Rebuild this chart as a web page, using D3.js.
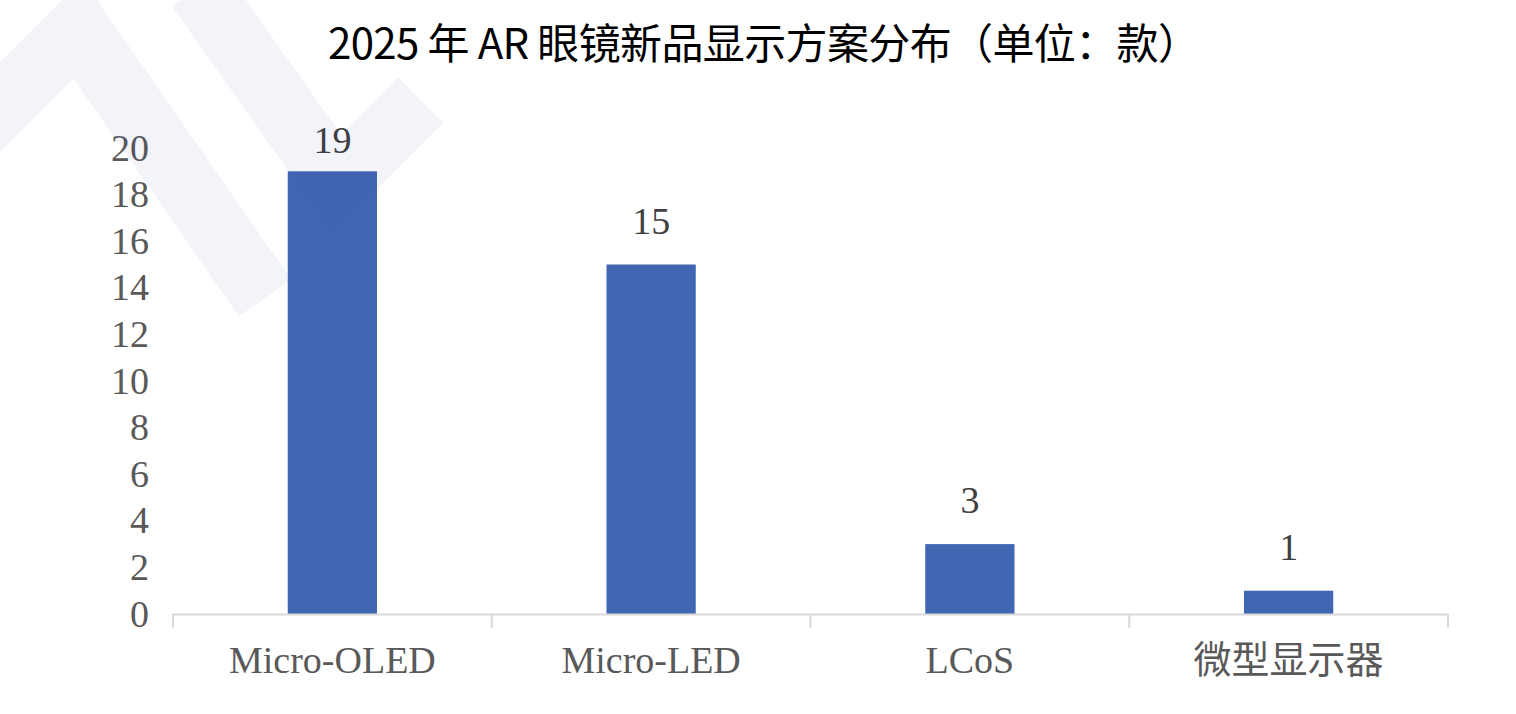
<!DOCTYPE html>
<html>
<head>
<meta charset="utf-8">
<script src="https://cdn.jsdelivr.net/npm/d3@7"></script>
<style>
  body { margin: 0; background: #fff; }
  .axis-label { font-family: "Liberation Serif", "Noto Sans CJK SC", serif; font-size: 38px; fill: #595959; }
  .value-label { font-family: "Liberation Serif", serif; font-size: 38px; fill: #404040; }
  .chart-title { font-family: "Liberation Sans Narrow", "Noto Sans CJK SC", sans-serif; font-size: 42px; font-weight: 400; fill: #000; }
</style>
</head>
<body>
<div id="chart"></div>
<script>
// data
const categories = ['Micro-OLED', 'Micro-LED', 'LCoS', '微型显示器'];
const counts = [19, 15, 3, 1];
const yTicks = [0, 2, 4, 6, 8, 10, 12, 14, 16, 18, 20];
const titleText = '2025 年 AR 眼镜新品显示方案分布（单位：款）';

class barChart {
    constructor(_config, _data) {
        this.config = {
            parentElement: _config.parentElement,
            containerWidth: _config.containerWidth || 1516,
            containerHeight: _config.containerHeight || 714,
            margin: _config.margin || {top: 148, right: 68, bottom: 100, left: 173},
        };
        this.data = _data;
        this.initVis();
    }

    initVis() {
        let vis = this;
        vis.width = vis.config.containerWidth - vis.config.margin.left - vis.config.margin.right;
        vis.height = vis.config.containerHeight - vis.config.margin.top - vis.config.margin.bottom;

        vis.svg = d3.select(vis.config.parentElement)
            .append('svg')
            .attr('width', vis.config.containerWidth)
            .attr('height', vis.config.containerHeight);

        vis.chart = vis.svg.append('g')
            .attr('transform', `translate(${vis.config.margin.left},${vis.config.margin.top})`);

        vis.xScale = d3.scaleBand()
            .domain(categories)
            .range([0, vis.width])
            .padding(0);

        vis.yScale = d3.scaleLinear()
            .domain([0, 20])
            .range([vis.height, 0]);

        vis.svg.append('text')
            .attr('class', 'chart-title')
            .attr('x', 764)
            .attr('y', 59)
            .attr('textLength', 872)
            .attr('lengthAdjust', 'spacing')
            .style('text-anchor', 'middle')
            .text(titleText);
    }

    renderVis() {
        let vis = this;
        const barW = vis.xScale.bandwidth() * 0.28;

        vis.chart.selectAll('.bar')
            .data(vis.data)
            .join('rect')
            .attr('class', 'bar')
            .attr('x', d => vis.xScale(d.category) + (vis.xScale.bandwidth() - barW) / 2)
            .attr('y', d => vis.yScale(d.count))
            .attr('width', barW)
            .attr('height', d => vis.height - vis.yScale(d.count))
            .attr('fill', '#4267b2');

        // light watermark stripes
        const wm = vis.svg.append('g')
            .attr('fill', 'none')
            .attr('stroke', 'rgb(30,60,160)')
            .attr('stroke-opacity', 0.055)
            .attr('stroke-width', 64)
            .attr('stroke-linejoin', 'miter');
        wm.append('path').attr('d', 'M-70,177 L78,29 L265,298');
        wm.append('path').attr('d', 'M198,-12 L337,184 L421,100');

        // x axis: line plus boundary ticks
        const xAxis = d3.axisBottom(vis.xScale).tickSize(0).tickSizeOuter(0).tickFormat('');
        const xAxisG = vis.chart.append('g')
            .attr('transform', `translate(0,${vis.height})`)
            .call(xAxis);
        xAxisG.select('.domain').attr('stroke', '#d9d9d9').attr('stroke-width', 2);
        xAxisG.selectAll('.tick').remove();

        const bounds = categories.map(c => vis.xScale(c)).concat([vis.width]);
        vis.chart.selectAll('.xtick')
            .data(bounds)
            .join('line')
            .attr('class', 'xtick')
            .attr('x1', d => d).attr('x2', d => d)
            .attr('y1', vis.height).attr('y2', vis.height + 14)
            .attr('stroke', '#d9d9d9')
            .attr('stroke-width', 2);

        vis.chart.selectAll('.cat-label')
            .data(categories)
            .join('text')
            .attr('class', 'axis-label cat-label')
            .attr('x', d => vis.xScale(d) + vis.xScale.bandwidth() / 2)
            .attr('y', vis.height + 59)
            .style('text-anchor', 'middle')
            .text(d => d);

        // y axis labels only
        const yAxis = d3.axisLeft(vis.yScale).tickValues(yTicks).tickSize(0).tickPadding(24);
        const yAxisG = vis.chart.append('g').call(yAxis);
        yAxisG.select('.domain').remove();
        yAxisG.selectAll('text')
            .attr('class', 'axis-label')
            .attr('font-family', null)
            .attr('font-size', null)
            .attr('fill', null);

        // value labels sit above the bars, kept inside the plot top
        vis.chart.selectAll('.value-label')
            .data(vis.data)
            .join('text')
            .attr('class', 'value-label')
            .attr('x', d => vis.xScale(d.category) + vis.xScale.bandwidth() / 2)
            .attr('y', d => Math.max(vis.yScale(d.count) - 31, vis.yScale(20) + 5))
            .style('text-anchor', 'middle')
            .text(d => d.count);
    }
}

const data = categories.map((c, i) => ({category: c, count: counts[i]}));
const chart = new barChart({parentElement: '#chart'}, data);
chart.renderVis();
</script>
</body>
</html>
